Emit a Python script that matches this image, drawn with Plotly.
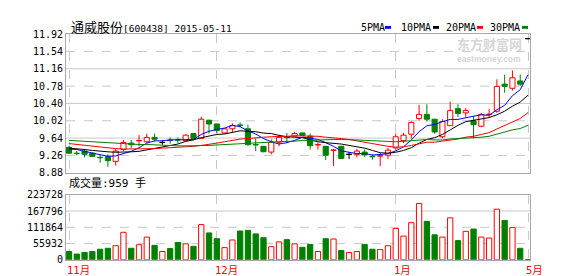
import plotly.graph_objects as go

# ---------------- data ----------------
stock_title = "通威股份[600438] 2015-05-11"
volume_title = "成交量:959 手"

open_ = [9.44, 9.31, 9.355, 9.31, 9.22, 9.23, 9.13, 9.39, 9.53, 9.58,
         9.56, 9.655, 9.545, 9.60, 9.605, 9.585, 9.74, 9.635, 10.033, 9.95,
         9.753, 9.844, 9.93, 9.844, 9.50, 9.46, 9.334, 9.551, 9.66, 9.684,
         9.753, 9.684, 9.49, 9.46, 9.37, 9.46, 9.285, 9.285, 9.334, 9.24,
         9.245, 9.264, 9.425, 9.586, 9.725, 10.068, 10.159, 10.054, 9.67, 9.914,
         10.285, 10.194, 10.019, 9.90, 10.155, 10.229, 10.823, 10.732, 10.893, 11.82]
high = [9.46, 9.355, 9.40, 9.32, 9.285, 9.285, 9.40, 9.60, 9.60, 9.705,
        9.74, 9.74, 9.60, 9.655, 9.655, 9.72, 9.75, 10.11, 10.04, 9.955,
        9.85, 9.963, 9.984, 9.935, 9.635, 9.47, 9.614, 9.705, 9.753, 9.774,
        9.76, 9.739, 9.544, 9.47, 9.404, 9.47, 9.334, 9.404, 9.39, 9.285,
        9.32, 9.425, 9.739, 9.753, 10.005, 10.368, 10.382, 10.06, 10.054, 10.438,
        10.382, 10.299, 10.124, 10.194, 10.278, 10.927, 11.032, 11.123, 11.032, 11.82]
low = [9.29, 9.26, 9.215, 9.23, 9.10, 9.01, 9.04, 9.355, 9.425, 9.46,
       9.53, 9.565, 9.495, 9.515, 9.53, 9.57, 9.63, 9.63, 9.74, 9.74,
       9.74, 9.774, 9.879, 9.474, 9.355, 9.33, 9.285, 9.46, 9.53, 9.68,
       9.69, 9.39, 9.39, 9.159, 9.027, 9.18, 9.18, 9.215, 9.229, 9.166,
       9.027, 9.18, 9.39, 9.53, 9.635, 10.019, 10.005, 9.739, 9.635, 9.91,
       10.103, 10.089, 9.635, 9.879, 10.103, 10.194, 10.634, 10.683, 10.788, 11.82]
close = [9.31, 9.30, 9.285, 9.24, 9.21, 9.145, 9.355, 9.545, 9.495, 9.59,
         9.655, 9.615, 9.545, 9.59, 9.595, 9.705, 9.635, 10.055, 9.95, 9.81,
         9.844, 9.914, 9.92, 9.495, 9.49, 9.341, 9.551, 9.656, 9.65, 9.739,
         9.698, 9.474, 9.50, 9.264, 9.38, 9.194, 9.285, 9.355, 9.271, 9.23,
         9.255, 9.376, 9.67, 9.705, 9.984, 10.159, 10.054, 9.774, 10.005, 10.243,
         10.18, 10.243, 9.935, 10.159, 10.165, 10.774, 10.774, 10.962, 10.823, 11.82]
volume = [28600, 19800, 25300, 28600, 36400, 39700, 48500, 94700, 39700, 51800,
          78200, 49600, 28600, 38600, 59500, 55100, 46300, 121200, 92500, 72700,
          41900, 68300, 99100, 101300, 89200, 76000, 45200, 61700, 69400, 55100,
          43000, 52900, 28600, 72700, 71600, 31900, 25300, 28600, 52900, 36400,
          35300, 48500, 108000, 81500, 127800, 193900, 132200, 85900, 78200, 144300,
          66100, 98000, 105800, 78200, 74900, 174100, 135500, 111300, 39700, 959]
ma5 = [9.40, 9.39, 9.35, 9.31, 9.27, 9.24, 9.25, 9.30, 9.35, 9.43,
       9.53, 9.58, 9.58, 9.60, 9.60, 9.61, 9.61, 9.72, 9.79, 9.83,
       9.86, 9.92, 9.89, 9.80, 9.73, 9.63, 9.56, 9.51, 9.54, 9.59,
       9.66, 9.64, 9.61, 9.54, 9.46, 9.36, 9.33, 9.30, 9.30, 9.27,
       9.28, 9.30, 9.36, 9.45, 9.60, 9.78, 9.91, 9.94, 10.00, 10.05,
       10.05, 10.09, 10.12, 10.15, 10.14, 10.26, 10.36, 10.57, 10.70, 11.03]
ma10 = [9.42, 9.41, 9.39, 9.37, 9.35, 9.34, 9.33, 9.33, 9.34, 9.35,
        9.38, 9.41, 9.44, 9.48, 9.51, 9.57, 9.60, 9.65, 9.69, 9.72,
        9.73, 9.76, 9.80, 9.79, 9.78, 9.75, 9.74, 9.70, 9.67, 9.66,
        9.65, 9.60, 9.56, 9.54, 9.53, 9.51, 9.48, 9.45, 9.42, 9.37,
        9.32, 9.31, 9.33, 9.37, 9.43, 9.53, 9.61, 9.65, 9.72, 9.82,
        9.92, 10.00, 10.03, 10.07, 10.09, 10.15, 10.23, 10.34, 10.43, 10.58]
ma20 = [9.52, 9.50, 9.48, 9.46, 9.44, 9.42, 9.41, 9.40, 9.40, 9.40,
        9.40, 9.41, 9.42, 9.43, 9.43, 9.45, 9.46, 9.48, 9.50, 9.53,
        9.56, 9.59, 9.62, 9.63, 9.65, 9.66, 9.67, 9.67, 9.68, 9.69,
        9.69, 9.68, 9.68, 9.66, 9.65, 9.63, 9.61, 9.58, 9.54, 9.51,
        9.48, 9.46, 9.44, 9.45, 9.48, 9.52, 9.55, 9.55, 9.57, 9.59,
        9.62, 9.66, 9.68, 9.72, 9.76, 9.84, 9.92, 10.00, 10.07, 10.20]
ma30 = [9.59, 9.58, 9.57, 9.56, 9.55, 9.53, 9.52, 9.51, 9.51, 9.50,
        9.50, 9.49, 9.48, 9.47, 9.47, 9.47, 9.47, 9.47, 9.48, 9.49,
        9.50, 9.51, 9.52, 9.53, 9.54, 9.55, 9.56, 9.565, 9.57, 9.57,
        9.59, 9.59, 9.60, 9.60, 9.61, 9.61, 9.61, 9.60, 9.59, 9.58,
        9.57, 9.56, 9.56, 9.57, 9.58, 9.60, 9.61, 9.60, 9.60, 9.62,
        9.63, 9.64, 9.64, 9.66, 9.68, 9.73, 9.77, 9.82, 9.85, 9.92]
month_pos = [0, 19, 42, 59]
month_labels = ["11月", "12月", "1月", "5月"]
price_ticks = [11.92, 11.54, 11.16, 10.78, 10.40, 10.02, 9.64, 9.26, 8.88]
price_grid_solid = [11.16, 10.40, 9.64]
volume_ticks = [0, 55932, 111864, 167796, 223728]
volume_grid_solid = [167796]
ma_names = ["5PMA", "10PMA", "20PMA", "30PMA"]

# ---------------- styling ----------------
RED, GREEN, BLACK, BLUE = "#ff0000", "#008000", "#000000", "#0000ff"
GRID = "#c8c8c8"
BORDER = "#a8a8a8"
MONO = "DejaVu Sans Mono, Noto Sans CJK SC"
ma_colors = [BLUE, BLACK, RED, GREEN]

W, H = 578, 276
PX_L, PX_R = 58, 522
PRICE_T, PRICE_B = 21, 166
VOL_T, VOL_B = 189, 257


def px_x(p):
    return p / W


def px_y(p):
    return (H - p) / H


n = len(close)
idx = list(range(n))
kinds = ["up" if c > o else ("down" if c < o else "flat") for o, c in zip(open_, close)]
kcolor = {"up": RED, "down": GREEN, "flat": BLACK}

fig = go.Figure()

# candle wicks (drawn above/below the body so hollow bodies stay empty)
for k in ["up", "down", "flat"]:
    xs, ys = [], []
    for i in idx:
        if kinds[i] != k:
            continue
        top = max(open_[i], close[i])
        bot = min(open_[i], close[i])
        if high[i] > top:
            xs += [i, i, None]
            ys += [top, high[i], None]
        if low[i] < bot:
            xs += [i, i, None]
            ys += [low[i], bot, None]
    if xs:
        fig.add_trace(go.Scatter(x=xs, y=ys, mode="lines", line=dict(color=kcolor[k], width=1),
                                 hoverinfo="skip", showlegend=False, xaxis="x", yaxis="y"))

# candle bodies
min_h = 0.008
body_base = [min(o, c) if abs(c - o) >= min_h else (o + c) / 2 - min_h / 2 for o, c in zip(open_, close)]
body_h = [max(abs(c - o), min_h) for o, c in zip(open_, close)]
body_fill = ["#ffffff" if k == "up" else kcolor[k] for k in kinds]
body_line = [kcolor[k] for k in kinds]
fig.add_trace(go.Bar(x=idx, y=body_h, base=body_base, width=0.66,
                     marker=dict(color=body_fill, line=dict(color=body_line, width=1)),
                     showlegend=False, xaxis="x", yaxis="y"))

# moving averages
for name, vals, col in zip(ma_names, [ma5, ma10, ma20, ma30], ma_colors):
    fig.add_trace(go.Scatter(x=idx, y=vals, mode="lines", name=name,
                             line=dict(color=col, width=1), showlegend=False,
                             xaxis="x", yaxis="y"))

# volume bars
vol_up = [c >= o for o, c in zip(open_, close)]
vol_fill = ["#ffffff" if u else GREEN for u in vol_up]
vol_line = [RED if u else GREEN for u in vol_up]
fig.add_trace(go.Bar(x=idx, y=volume, width=0.68,
                     marker=dict(color=vol_fill, line=dict(color=vol_line, width=1)),
                     showlegend=False, xaxis="x2", yaxis="y2"))

x_lo = -3 / 7.78
x_hi = (n - 1) + 2 / 7.78
xcommon = dict(range=[x_lo, x_hi], tickmode="array", tickvals=month_pos, showticklabels=False,
               showgrid=True, gridcolor=GRID, griddash="dash", gridwidth=1,
               showline=True, mirror=True, linecolor=BORDER, linewidth=1,
               zeroline=False, ticks="", domain=[px_x(PX_L), px_x(PX_R)])

shapes = []
for v in price_ticks[1:-1]:
    shapes.append(dict(type="line", xref="x domain", x0=0, x1=1, yref="y", y0=v, y1=v,
                       line=dict(color=GRID, width=1, dash="solid" if v in price_grid_solid else "dash"),
                       layer="below"))
for v in volume_ticks[1:-1]:
    shapes.append(dict(type="line", xref="x2 domain", x0=0, x1=1, yref="y2", y0=v, y1=v,
                       line=dict(color=GRID, width=1, dash="solid" if v in volume_grid_solid else "dash"),
                       layer="below"))

# legend swatches
legend_text_x = [352, 392, 437, 481]
legend_sw_x = [377, 425, 469, 514]
for sx, col in zip(legend_sw_x, ma_colors):
    shapes.append(dict(type="rect", xref="paper", yref="paper",
                       x0=px_x(sx), x1=px_x(sx + 6), y0=px_y(15.5), y1=px_y(12.5),
                       line=dict(width=0), fillcolor=col))

annotations = []
annotations.append(dict(xref="paper", yref="paper", x=px_x(61), y=px_y(14), xanchor="left", yanchor="middle",
                        showarrow=False, font=dict(family=MONO, size=9.5, color=BLACK),
                        text='<span style="font-size:13px">' + stock_title[:4] + '</span>' + stock_title[4:]))
for tx, name in zip(legend_text_x, ma_names):
    annotations.append(dict(xref="paper", yref="paper", x=px_x(tx - 1), y=px_y(14), xanchor="left",
                            yanchor="middle", showarrow=False,
                            font=dict(family=MONO, size=10, color=BLACK), text=name))
annotations.append(dict(xref="paper", yref="paper", x=px_x(59), y=px_y(177), xanchor="left", yanchor="middle",
                        showarrow=False, font=dict(family=MONO, size=11, color=BLACK), text=volume_title))
for pos, lab in zip(month_pos, month_labels):
    annotations.append(dict(xref="x2", yref="paper", x=pos, y=px_y(268), xanchor="left", yanchor="middle",
                            xshift=-4, showarrow=False, font=dict(family=MONO, size=10.5, color=RED),
                            text=lab))
# watermark
annotations.append(dict(xref="paper", yref="paper", x=px_x(481), y=px_y(31), xanchor="center",
                        yanchor="middle", showarrow=False, borderpad=0,
                        font=dict(family="Noto Sans CJK SC", size=13, color="#d6d6d6", weight="bold"),
                        text="东方财富网"))
annotations.append(dict(xref="paper", yref="paper", x=px_x(481), y=px_y(47.5), xanchor="center",
                        yanchor="middle", showarrow=False, borderpad=0,
                        font=dict(family="Liberation Sans", size=8.5, color="#d6d6d6", weight="bold"),
                        text="eastmoney.com"))

fig.update_layout(
    width=W, height=H, margin=dict(l=0, r=0, t=0, b=0),
    paper_bgcolor="#ffffff", plot_bgcolor="#ffffff",
    showlegend=False, barmode="overlay",
    xaxis=dict(anchor="y", **xcommon),
    xaxis2=dict(anchor="y2", matches="x", **xcommon),
    yaxis=dict(domain=[px_y(PRICE_B), px_y(PRICE_T)], range=[price_ticks[-1], price_ticks[0]],
               tickmode="array", tickvals=price_ticks, ticktext=["%.2f" % v for v in price_ticks],
               showgrid=False, zeroline=False, showline=True, mirror=True, linecolor=BORDER,
               ticks="", tickfont=dict(family=MONO, size=10, color=BLACK), anchor="x"),
    yaxis2=dict(domain=[px_y(VOL_B), px_y(VOL_T)], range=[volume_ticks[0], volume_ticks[-1]],
                tickmode="array", tickvals=volume_ticks, ticktext=[str(v) for v in volume_ticks],
                showgrid=False, zeroline=False, showline=True, mirror=True, linecolor=BORDER,
                ticks="", tickfont=dict(family=MONO, size=10, color=BLACK), anchor="x2"),
    shapes=shapes, annotations=annotations,
)

fig.write_html("out.html")
